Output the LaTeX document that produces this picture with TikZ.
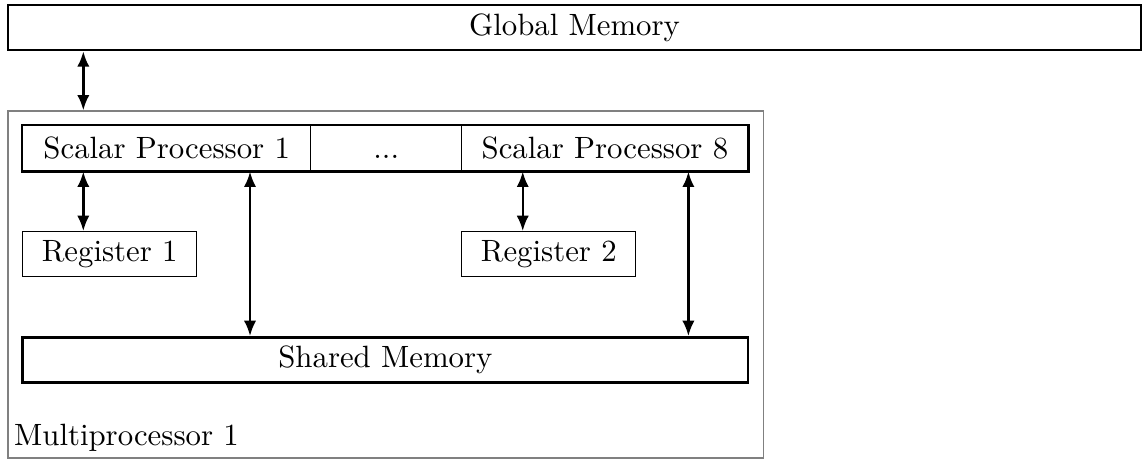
\documentclass[tikz,border=0pt]{standalone}
\usepackage{tikz}
\usetikzlibrary{arrows.meta}

\begin{document}
\begin{tikzpicture}[
    cell/.style={rectangle, draw, inner sep=0pt, minimum height=0.515cm},
    thickcell/.style={cell, line width=0.8pt},
    bus/.style={line width=0.8pt, {Latex[length=5pt,width=4pt]}-{Latex[length=5pt,width=4pt]}}
]
    \useasboundingbox (0,0) rectangle (13.07,-5.274);

    % Memory and multiprocessor frame
    \path
    (6.558, -0.314) node[thickcell, minimum width=12.934cm] (GM) {Global Memory}
    (4.404, -3.248) node[rectangle, draw=gray, inner sep=0pt, minimum width=8.625cm, minimum height=3.961cm] (MP) {}
    (4.399, -4.108) node[thickcell, minimum width=8.28cm] (SM) {Shared Memory}
    ;
    \node[anchor=south west, inner sep=2pt] (MPlabel) at (MP.south west) {Multiprocessor 1};

    % Scalar processors
    \path
    (1.903, -1.694) node[cell, minimum width=3.288cm] (SP1) {Scalar Processor 1}
    (4.409, -1.694) node[cell, minimum width=1.724cm] (SPd) {\vphantom{Scalar}...}
    (6.905, -1.694) node[cell, minimum width=3.268cm] (SP8) {Scalar Processor 8}
    ;
    \draw[line width=0.8pt] (SP1.north west) rectangle (SP8.south east);

    % Registers
    \path
    (1.252, -2.902) node[cell, minimum width=1.986cm] (R1) {Register 1}
    (6.264, -2.902) node[cell, minimum width=1.986cm] (R2) {Register 2}
    ;

    % Bus positions
    \coordinate (x1) at (0.951, 0);
    \coordinate (x2) at (2.854, 0);
    \coordinate (x3) at (5.967, 0);
    \coordinate (x4) at (7.858, 0);

    % Connections
    \draw[bus] (GM.south -| x1) -- (MP.north -| x1);
    \draw[bus] (SP1.south -| x1) -- (R1.north -| x1);
    \draw[bus] (SP1.south -| x2) -- (SM.north -| x2);
    \draw[bus] (SP8.south -| x3) -- (R2.north -| x3);
    \draw[bus] (SP8.south -| x4) -- (SM.north -| x4);

\end{tikzpicture}
\end{document}
